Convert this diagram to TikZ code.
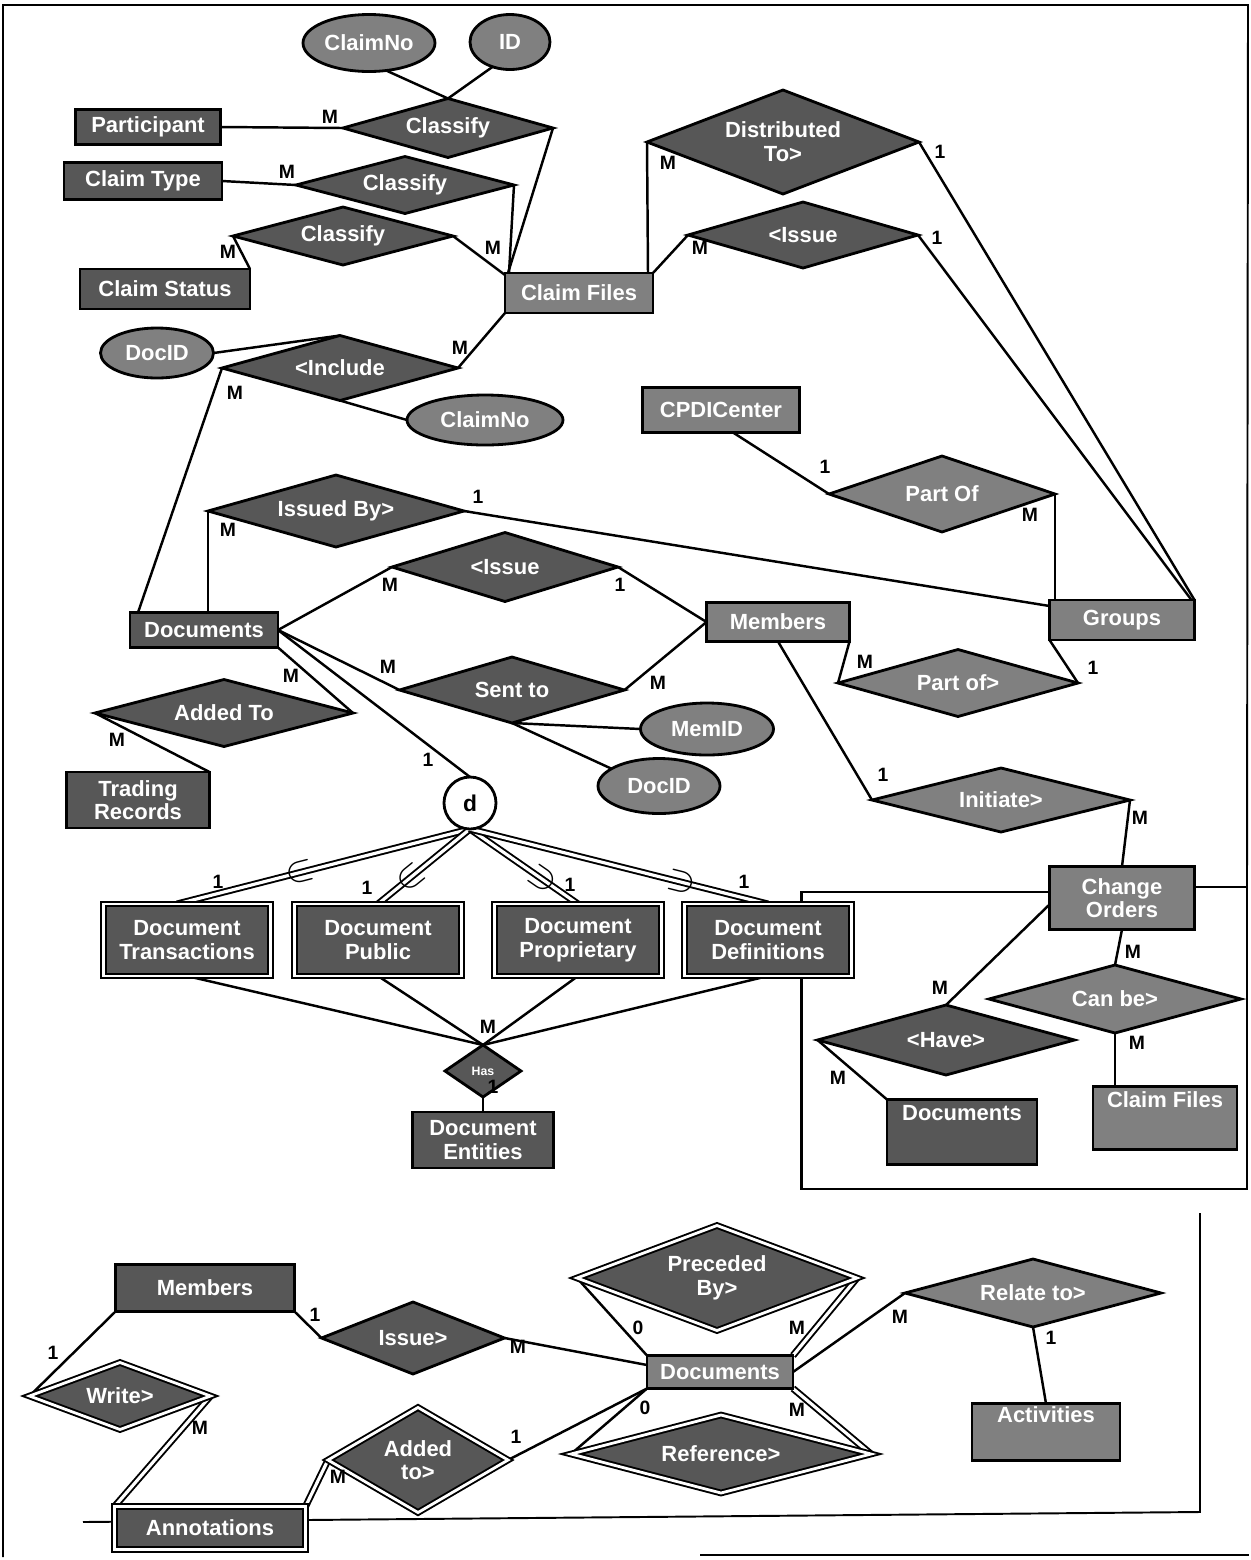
\documentclass[tikz,border=0pt]{standalone}
\usepackage{fontspec}
\setmainfont{Liberation Sans}
\usetikzlibrary{shapes.geometric,calc}
\pgfdeclarelayer{bg}
\pgfsetlayers{bg,main}
\definecolor{dk}{gray}{0.34}
\definecolor{md}{gray}{0.50}
\tikzset{
  every node/.style={inner sep=0pt, outer sep=0pt},
  base/.style={draw=black, line width=1.6pt, text=white, font=\bfseries\fontsize{12.5}{13.5}\selectfont, align=center},
  sz/.style 2 args={minimum width=#1*0.02cm, minimum height=#2*0.02cm},
  ent/.style={base, rectangle, fill=dk},
  entm/.style={base, rectangle, fill=md},
  rel/.style={base, diamond, fill=dk},
  relm/.style={base, diamond, fill=md},
  att/.style={base, ellipse, fill=md},
  dbl/.style={double=white, double distance=1.6pt, line width=1.1pt},
  conn/.style={line width=1.4pt},
  dconn/.style={line width=1.1pt, double=white, double distance=1.8pt},
  frame/.style={line width=1.1pt},
  card/.style={font=\bfseries\fontsize{11}{11}\selectfont, text=black},
  subs/.style={sloped, allow upside down, text=black, font=\fontsize{22}{22}\selectfont},
}
\begin{document}
\begin{tikzpicture}[x=0.02cm, y=-0.02cm]
\useasboundingbox (0,0) rectangle (1251,1560);

% ---------- attributes ----------
\node[att, sz={132}{57}] (a1) at (369,43) {ClaimNo};
\node[att, sz={80}{55}] (a2) at (510,42) {ID};
\node[att, sz={113}{50}] (a3) at (157,353) {DocID};
\node[att, sz={156}{50}] (a4) at (485,420) {ClaimNo};
\node[att, sz={133}{52}] (a5) at (707,729) {MemID};
\node[att, sz={122}{55}] (a6) at (659,786) {DocID};

% ---------- entities ----------
\node[ent, sz={145}{35}] (e1) at (148,127) {Participant};
\node[ent, sz={158}{37}] (e2) at (143,181) {Claim Type};
\node[ent, sz={170}{40}] (e3) at (165,289) {Claim Status};
\node[entm, sz={148}{40}] (e4) at (579,293) {Claim Files};
\node[entm, sz={157}{45}] (e5) at (721,410) {CPDICenter};
\node[ent, sz={148}{35}] (e6) at (204,630) {Documents};
\node[entm, sz={143}{39}] (e7) at (778,622) {Members};
\node[entm, sz={145}{40}] (e8) at (1122,620) {Groups};
\node[ent, sz={143}{56}] (e9) at (138,800) {Trading\\Records};
\node[ent, dbl, sz={167}{72}] (e10) at (187,940) {Document\\Transactions};
\node[ent, dbl, sz={167}{72}] (e11) at (378,940) {Document\\Public};
\node[ent, dbl, sz={167}{72}] (e12) at (578,940) {Document\\Proprietary};
\node[ent, dbl, sz={167}{72}] (e13) at (768,940) {Document\\Definitions};
\node[ent, sz={141}{56}] (e14) at (483,1140) {Document\\Entities};
\node[entm, sz={145}{63}] (e15) at (1122,898) {Change\\Orders};
\node[ent, sz={150}{65}] (e16) at (962,1132) {Documents\\[8pt]};
\node[entm, sz={144}{63}] (e17) at (1165,1118) {Claim Files\\[8pt]};
\node[ent, sz={179}{47}] (e18) at (205,1288) {Members};
\node[ent, dbl, sz={191}{43}] (e19) at (210,1528) {Annotations};
\node[entm, sz={146}{33}] (e20) at (720,1372) {Documents};
\node[entm, sz={148}{57}] (e21) at (1046,1432) {Activities\\[6pt]};

% ---------- relationships ----------
\node[rel, sz={210}{59}, aspect=3.5] (r1) at (448,128) {Classify};
\node[rel, sz={218}{57}, aspect=3.8] (r2) at (405,185) {Classify};
\node[rel, sz={220}{58}, aspect=3.8] (r3) at (343,236) {Classify};
\node[rel, sz={272}{104}, aspect=2.6] (r4) at (783,142) {Distributed\\To>};
\node[rel, sz={230}{66}, aspect=3.5] (r5) at (803,235) {<Issue};
\node[rel, sz={236}{65}, aspect=3.6] (r6) at (340,368) {<Include};
\node[rel, sz={256}{72}, aspect=3.55] (r7) at (336,511) {Issued By>};
\node[relm, sz={226}{76}, aspect=3.0] (r8) at (942,494) {Part Of};
\node[rel, sz={226}{69}, aspect=3.3] (r9) at (505,567) {<Issue};
\node[rel, sz={225}{66}, aspect=3.4] (r10) at (512,690) {Sent to};
\node[relm, sz={240}{67}, aspect=3.6] (r11) at (958,683) {Part of>};
\node[rel, sz={258}{67}, aspect=3.85] (r12) at (224,713) {Added To};
\node[relm, sz={258}{64}, aspect=4.0] (r13) at (1001,800) {Initiate>};
\node[rel, sz={76}{52}, aspect=1.46, font=\bfseries\fontsize{7}{7}\selectfont] (r14) at (483,1071) {Has};
\node[relm, sz={252}{68}, aspect=3.7] (r15) at (1115,999) {Can be>};
\node[rel, sz={257}{70}, aspect=3.7] (r16) at (946,1040) {<Have>};
\node[rel, sz={183}{72}, aspect=2.55] (r17) at (413,1338) {Issue>};
\node[rel, dbl, sz={181}{67}, aspect=2.7] (r18) at (120,1396) {Write>};
\node[rel, dbl, sz={180}{105}, aspect=1.7] (r19) at (418,1460) {Added\\to>};
\node[rel, dbl, sz={280}{105}, aspect=2.67] (r20) at (717,1278) {Preceded\\By>};
\node[rel, dbl, sz={300}{78}, aspect=3.85] (r21) at (721,1454) {Reference>};
\node[relm, sz={256}{68}, aspect=3.75] (r22) at (1033,1293) {Relate to>};

\node[circle, draw=black, line width=1.6pt, fill=white, minimum size=52*0.02cm, font=\bfseries\fontsize{13}{13}\selectfont] (d) at (470,803) {d};

% ---------- frame coordinates ----------
\coordinate (f1) at (3,1557);
\coordinate (f2) at (3,5);
\coordinate (f3) at (1248,5);
\coordinate (f5) at (700,1555);
\coordinate (f6) at (1249,1555);
\coordinate (cr1) at (1247,1189);
\coordinate (cr2) at (1247,887);
\coordinate (b1) at (83,1522);
\coordinate (b2) at (1200,1512);
\coordinate (b3) at (1200,1213);

\begin{pgfonlayer}{bg}
\draw[frame] (f1) -- (f2) -- (f3) -- (cr2);
\draw[frame] (f5) -- (f6);
\draw[frame] (b1) -- (b2) -- (b3);

% top cluster
\draw[conn] (e1.east) -- (r1.west);
\draw[conn] (a1.-58) -- (r1.north);
\draw[conn] (a2.-125) -- (r1.north);
\draw[conn] (r1.east) -- ($(e4.north west)+(3,0)$);
\draw[conn] (r2.east) -- ($(e4.north west)+(4,0)$);
\draw[conn] (e2.east) -- (r2.west);
\draw[conn] (r3.east) -- ($(e4.north west)+(0,2)$);
\draw[conn] (r3.west) -- (e3.north east);
\draw[conn] ($(e4.north east)+(-5,0)$) -- (r4.west);
\draw[conn] (e4.north east) -- (r5.west);
\draw[conn] (r4.east) -- (e8.north east);
\draw[conn] (r5.east) -- ($(e8.north east)+(-3,0)$);
\draw[conn] (e4.south west) -- (r6.east);
\draw[conn] (a3.east) -- (r6.north);
\draw[conn] (r6.south) -- (a4.west);
\draw[conn] (r6.west) -- ($(e6.north west)+(8,0)$);
\draw[conn] (r7.west) -- (r7.west |- e6.north);
\draw[conn] (r7.east) -- ($(e8.north west)+(0,6)$);
\draw[conn] ($(e5.south)+(12,0)$) -- (r8.west);
\draw[conn] (r8.east) -- (r8.east |- e8.north);
\draw[conn] (e6.east) -- (r9.west);
\draw[conn] (r9.east) -- (e7.west);
\draw[conn] (e6.east) -- (r10.west);
\draw[conn] (r10.east) -- (e7.west);
\draw[conn] (r10.south) -- (a5.west);
\draw[conn] (r10.south) -- (a6.160);
\draw[conn] (e6.south east) -- (r12.east);
\draw[conn] (r12.west) -- (e9.north east);
\draw[conn] (e6.east) -- (d.north);
\draw[conn] (e7.south east) -- (r11.west);
\draw[conn] (e8.south west) -- (r11.east);
\draw[conn] (e7.south) -- (r13.west);
\draw[conn] (r13.east) -- (e15.north);

% specialisation
\draw[dconn] ($(e10.north)+(-10,0)$) -- node[subs, pos=0.42] {$\subset$} (d.south);
\draw[dconn] (e11.north) -- node[subs, pos=0.36] {$\subset$} (d.south);
\draw[dconn] (e12.north) -- node[subs, pos=0.33] {$\subset$} (d.south);
\draw[dconn] (e13.north) -- node[subs, pos=0.29] {$\subset$} (d.south);
\draw[conn] (e10.south) -- (r14.north);
\draw[conn] (e11.south) -- (r14.north);
\draw[conn] (e12.south) -- (r14.north);
\draw[conn] (e13.south) -- (r14.north);
\draw[conn] (r14.south) -- (e14.north);

% change orders
\draw[conn] ($(e15.west)+(0,-6)$) -| ($(e13.north east)+(-50,0)$);
\draw[conn] ($(e13.south east)+(-50,0)$) |- (cr1) -- (cr2) -- ($(e15.east)+(0,-11)$);
\draw[conn] (e15.south) -- (r15.north);
\draw[conn] (r15.south) -- (r15.south |- e17.north);
\draw[conn] ($(e15.south west)+(0,-25)$) -- (r16.north);
\draw[conn] (r16.west) -- (e16.north west);

% bottom section
\draw[conn] (e18.south east) -- (r17.west);
\draw[conn] (r17.east) -- ($(e20.west)+(0,-7)$);
\draw[conn] (e18.south west) -- (r18.west);
\draw[dconn] (r18.east) -- (e19.north west);
\draw[dconn] (e19.north east) -- (r19.west);
\draw[conn] (r19.east) -- (e20.south west);
\draw[conn] (r20.west) -- (e20.north west);
\draw[dconn] (r20.east) -- (e20.north east);
\draw[conn] (e20.south west) -- (r21.west);
\draw[dconn] (e20.south east) -- (r21.east);
\draw[conn] (e20.east) -- (r22.west);
\draw[conn] (r22.south) -- (e21.north);
\end{pgfonlayer}

% ---------- cardinalities ----------
\node[card] (c1) at (330,117) {M};
\node[card] (c2) at (287,172) {M};
\node[card] (c3) at (228,252) {M};
\node[card] (c4) at (493,248) {M};
\node[card] (c5) at (668,163) {M};
\node[card] (c6) at (940,152) {1};
\node[card] (c7) at (700,248) {M};
\node[card] (c8) at (937,238) {1};
\node[card] (c9) at (460,348) {M};
\node[card] (c10) at (235,393) {M};
\node[card] (c11) at (825,467) {1};
\node[card] (c12) at (1030,515) {M};
\node[card] (c13) at (478,497) {1};
\node[card] (c14) at (228,530) {M};
\node[card] (c15) at (390,585) {M};
\node[card] (c16) at (620,585) {1};
\node[card] (c17) at (388,667) {M};
\node[card] (c18) at (658,683) {M};
\node[card] (c19) at (291,676) {M};
\node[card] (c20) at (117,740) {M};
\node[card] (c21) at (428,760) {1};
\node[card] (c22) at (865,662) {M};
\node[card] (c23) at (1093,668) {1};
\node[card] (c24) at (883,775) {1};
\node[card] (c25) at (1140,818) {M};
\node[card] (c26) at (218,882) {1};
\node[card] (c27) at (367,888) {1};
\node[card] (c28) at (570,885) {1};
\node[card] (c29) at (744,882) {1};
\node[card] (c30) at (488,1027) {M};
\node[card] (c31) at (493,1087) {1};
\node[card] (c32) at (1133,952) {M};
\node[card] (c33) at (1137,1043) {M};
\node[card] (c34) at (940,988) {M};
\node[card] (c35) at (838,1078) {M};
\node[card] (c36) at (315,1315) {1};
\node[card] (c37) at (518,1347) {M};
\node[card] (c38) at (53,1353) {1};
\node[card] (c39) at (200,1428) {M};
\node[card] (c40) at (338,1477) {M};
\node[card] (c41) at (516,1437) {1};
\node[card] (c42) at (638,1328) {0};
\node[card] (c43) at (797,1328) {M};
\node[card] (c44) at (645,1408) {0};
\node[card] (c45) at (797,1410) {M};
\node[card] (c46) at (900,1317) {M};
\node[card] (c47) at (1051,1338) {1};
\end{tikzpicture}
\end{document}
